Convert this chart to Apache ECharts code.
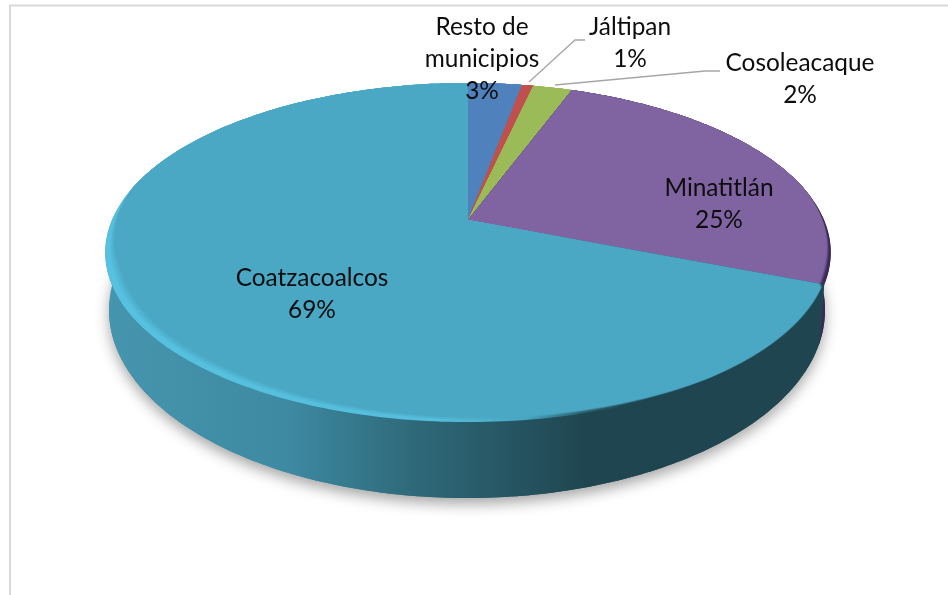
<!DOCTYPE html>
<html><head><meta charset="utf-8">
<style>html,body{margin:0;padding:0;background:#fff}#c{width:948px;height:595px}</style>
<script src="https://cdn.jsdelivr.net/npm/echarts@6/dist/echarts.min.js"></script>
</head><body><div id="c"></div>
<script>
const names = ['Resto de\nmunicipios','Jáltipan','Cosoleacaque','Minatitlán','Coatzacoalcos'];
const values = [2.9,0.6,2.1,25.4,69];
const faceColors = ['#4f81bd','#c0504d','#9bbb59','#8064a2','#4aa8c4'];

const total = values.reduce((a,b)=>a+b,0);
let acc = 0;
const sliceData = values.map((v,i)=>{const s=acc/total*360; acc+=v; return {name:names[i],value:[s,acc/total*360,v]};});

// perspective projection of the pie's top disc
const CX=468, CY=220, A=356, B=163.3, K=0.192;
function proj(deg,r){
  const t=deg*Math.PI/180, X=Math.sin(t)*r, Y=-Math.cos(t)*r, d=1-K*Y;
  return [CX+A*X/d, CY+B*Y/d];
}
function arc(a,b,r){
  const pts=[], n=Math.max(2,Math.ceil(Math.abs(b-a)));
  for(let i=0;i<=n;i++){
    const d=a+(b-a)*i/n;
    pts.push(proj(d,typeof r==='function'?r(d):r));
  }
  return pts;
}
// lower outline of the disc's thickness
function lowerArc(a,b){
  const pts=[], n=Math.max(2,Math.ceil(Math.abs(b-a)));
  for(let i=0;i<=n;i++){
    const t=(a+(b-a)*i/n)*Math.PI/180;
    pts.push([467+358*Math.sin(t),310-188*Math.cos(t)]);
  }
  return pts;
}
function bevel(d){
  const Y=-Math.cos(d*Math.PI/180);
  const t=Math.min(1,Math.max(0,(Y+0.2)/0.5));
  const side=d<112?0.4:d<145?0.15:d<215?0.15+0.85*(d-145)/70:1;
  return 0.03*t*side;
}
const H=(stops)=>({type:'linear',x:105,y:0,x2:832,y2:0,global:true,colorStops:stops.map(s=>({offset:s[0],color:s[1]}))});
const wallStops=[[0,'#4695ae'],[0.25,'#3d8aa2'],[0.42,'#2f6a7a'],[0.6,'#234f5b'],[0.66,'#1f4650'],[1,'#1f4650']];
const rimStops=[[0,'#56c1e0'],[0.45,'#56bedc'],[0.58,'#47a5bf'],[0.66,'#2a5d6b'],[0.72,'#1f4650'],[1,'#1f4650']];
const wallGrad=H(wallStops);
const PURPLE_WALL='#3a2a55';

const labels=[
  {x:482,y:27},{x:630,y:27},{x:800,y:63},{x:719,y:188},{x:312,y:278}
];
const LH=32;

function renderWalls(params,api){
  const i=params.dataIndex;
  const c=[];
  if(i===0){
    c.push({type:'polygon',shape:{points:lowerArc(0,360)},style:{fill:wallGrad,shadowBlur:14,shadowColor:'rgba(0,0,0,0.35)',shadowOffsetY:6}});
  }
  if(i===3){
    const e=api.value(1);
    c.push({type:'polygon',shape:{points:arc(78,e,1).concat(lowerArc(101,72))},style:{fill:PURPLE_WALL}});
  }
  if(i===4){
    const s=api.value(0);
    c.push({type:'polygon',shape:{points:arc(s,285,1).concat(lowerArc(272,100))},style:{fill:wallGrad}});
  }
  return {type:'group',children:c};
}
const STEPS=[0.55,0.7,0.85,1,1.15];
function renderTops(params,api){
  const i=params.dataIndex, s=api.value(0), e=api.value(1);
  const apex=[CX,CY], face=faceColors[i], lerp=echarts.color.lerp;
  const fillAt=(f)=> i===4 ? H(rimStops.map(r=>[r[0],lerp(f,[r[1],face])]))
                   : i===3 ? lerp(f,[PURPLE_WALL,face]) : face;
  const c=[{type:'polygon',shape:{points:[apex].concat(arc(s,e,0.9999))},style:{fill:fillAt(0)}}];
  STEPS.forEach((q,k)=>{
    const f=(k+1)/STEPS.length;
    c.push({type:'polygon',shape:{points:[apex].concat(arc(s,e,d=>1-bevel(d)*q))},style:{fill:fillAt(f)}});
  });
  return {type:'group',children:c};
}
function renderLabels(params,api){
  const i=params.dataIndex;
  const pct=Math.round(api.value(2)/total*100)+'%';
  const L=labels[i];
  const parts=names[i].split('\n').concat([pct]);
  return {type:'group',children:parts.map((t,k)=>({type:'text',x:L.x,y:L.y+k*LH,
    style:{text:t,font:'24.4px Lato, "Open Sans", sans-serif',fill:'#0d0d0d',align:'center',verticalAlign:'middle'},z2:100}))};
}
const chart=echarts.init(document.getElementById('c'),null,{renderer:'canvas'});
chart.setOption({
  animation:false,
  backgroundColor:'#fff',
  graphic:{elements:[
    {type:'polyline',z:0,shape:{points:[[10,595],[10,5.5],[948,5.5]]},style:{stroke:'#d9d9d9',lineWidth:2,fill:null}},
    {type:'polyline',z:10,shape:{points:[[585,40],[575,40],[529,82]]},style:{stroke:'#a6a6a6',lineWidth:1.3,fill:null}},
    {type:'polyline',z:10,shape:{points:[[720,71],[705,71],[555,85]]},style:{stroke:'#a6a6a6',lineWidth:1.3,fill:null}}
  ]},
  series:[
    {type:'custom',coordinateSystem:'none',renderItem:renderWalls,data:sliceData,z:2,silent:true},
    {type:'custom',coordinateSystem:'none',renderItem:renderTops,data:sliceData,z:3,silent:true},
    {type:'custom',coordinateSystem:'none',renderItem:renderLabels,data:sliceData,z:4,silent:true}
  ]
});
</script></body></html>
